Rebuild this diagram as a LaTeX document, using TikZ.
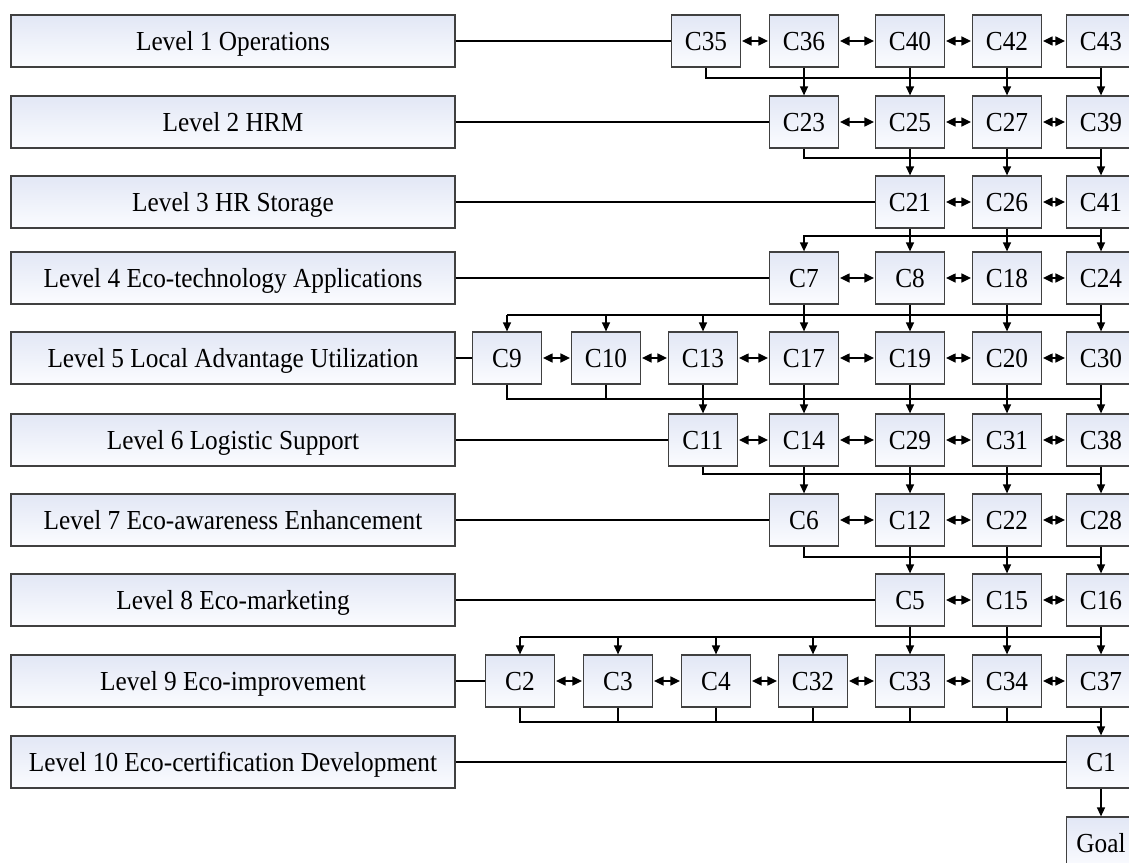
\documentclass[tikz,border=0pt]{standalone}
\usepackage{fontspec}
\setmainfont{Liberation Serif}[FakeStretch=0.92]
\usetikzlibrary{arrows.meta}
\definecolor{boxtop}{RGB}{226,231,245}
\definecolor{boxbot}{RGB}{251,252,255}
\definecolor{boxline}{RGB}{64,64,64}
\begin{document}
\begin{tikzpicture}[x=1pt,y=-1pt,
  base/.style={draw=boxline,line width=1.2pt,top color=boxtop,bottom color=boxbot,
    inner sep=0pt,font=\fontsize{27.5}{32}\selectfont,minimum height=52pt,
    text height=18pt,text depth=0pt},
  cbox/.style={base,minimum width=69pt},
  lbox/.style={base,minimum width=444pt},
  wire/.style={draw=black,line width=1.3pt},
  bus/.style={draw=black,line width=1.6pt},
  thickbus/.style={draw=black,line width=2.2pt},
  arr/.style={wire,-{Triangle[length=9pt,width=8pt]}},
  dbl/.style={wire,{Triangle[length=9.5pt,width=9pt]}-{Triangle[length=9.5pt,width=9pt]},shorten <=1pt,shorten >=1pt}
]
\useasboundingbox (0,0) rectangle (1129,862);
\fill[white] (0,0) rectangle (1129,862);

% Level boxes
\node[lbox] (L1) at (233,41) {Level 1 Operations};
\node[lbox] (L2) at (233,122) {Level 2 HRM};
\node[lbox] (L3) at (233,202) {Level 3 HR Storage};
\node[lbox] (L4) at (233,278) {Level 4 Eco-technology Applications};
\node[lbox] (L5) at (233,358) {Level 5 Local Advantage Utilization};
\node[lbox] (L6) at (233,440) {Level 6 Logistic Support};
\node[lbox] (L7) at (233,520) {Level 7 Eco-awareness Enhancement};
\node[lbox] (L8) at (233,600) {Level 8 Eco-marketing};
\node[lbox] (L9) at (233,681) {Level 9 Eco-improvement};
\node[lbox] (L10) at (233,762) {Level 10 Eco-certification Development};

% Row 1
\node[cbox] (C35) at (706,41) {C35};
\node[cbox] (C36) at (804,41) {C36};
\node[cbox] (C40) at (910,41) {C40};
\node[cbox] (C42) at (1007,41) {C42};
\node[cbox] (C43) at (1101,41) {C43};
% Row 2
\node[cbox] (C23) at (804,122) {C23};
\node[cbox] (C25) at (910,122) {C25};
\node[cbox] (C27) at (1007,122) {C27};
\node[cbox] (C39) at (1101,122) {C39};
% Row 3
\node[cbox] (C21) at (910,202) {C21};
\node[cbox] (C26) at (1007,202) {C26};
\node[cbox] (C41) at (1101,202) {C41};
% Row 4
\node[cbox] (C7) at (804,278) {C7};
\node[cbox] (C8) at (910,278) {C8};
\node[cbox] (C18) at (1007,278) {C18};
\node[cbox] (C24) at (1101,278) {C24};
% Row 5
\node[cbox] (C9) at (507,358) {C9};
\node[cbox] (C10) at (606,358) {C10};
\node[cbox] (C13) at (703,358) {C13};
\node[cbox] (C17) at (804,358) {C17};
\node[cbox] (C19) at (910,358) {C19};
\node[cbox] (C20) at (1007,358) {C20};
\node[cbox] (C30) at (1101,358) {C30};
% Row 6
\node[cbox] (C11) at (703,440) {C11};
\node[cbox] (C14) at (804,440) {C14};
\node[cbox] (C29) at (910,440) {C29};
\node[cbox] (C31) at (1007,440) {C31};
\node[cbox] (C38) at (1101,440) {C38};
% Row 7
\node[cbox] (C6) at (804,520) {C6};
\node[cbox] (C12) at (910,520) {C12};
\node[cbox] (C22) at (1007,520) {C22};
\node[cbox] (C28) at (1101,520) {C28};
% Row 8
\node[cbox] (C5) at (910,600) {C5};
\node[cbox] (C15) at (1007,600) {C15};
\node[cbox] (C16) at (1101,600) {C16};
% Row 9
\node[cbox] (C2) at (520,681) {C2};
\node[cbox] (C3) at (618,681) {C3};
\node[cbox] (C4) at (716,681) {C4};
\node[cbox] (C32) at (813,681) {C32};
\node[cbox] (C33) at (910,681) {C33};
\node[cbox] (C34) at (1007,681) {C34};
\node[cbox] (C37) at (1101,681) {C37};
% Row 10 and goal
\node[cbox] (C1) at (1101,762) {C1};
\node[cbox] (Goal) at (1101,843) {Goal};

% Bus coordinates
\coordinate (b12) at (1101,78);
\coordinate (b23) at (1101,158);
\coordinate (b34) at (1101,236);
\coordinate (b45) at (1101,315);
\coordinate (b56) at (1101,399);
\coordinate (b67) at (1101,474);
\coordinate (b78) at (1101,557);
\coordinate (b89) at (1101,637);
\coordinate (b910) at (1101,722);

% Level lines
\foreach \l/\c in {L1/C35,L2/C23,L3/C21,L4/C7,L5/C9,L6/C11,L7/C6,L8/C5,L9/C2,L10/C1}
  \draw[wire] (\l.east) -- (\c.west);

% Horizontal double arrows
\foreach \a/\b in {C35/C36,C36/C40,C40/C42,C42/C43,
  C23/C25,C25/C27,C27/C39,
  C21/C26,C26/C41,
  C7/C8,C8/C18,C18/C24,
  C9/C10,C10/C13,C13/C17,C17/C19,C19/C20,C20/C30,
  C11/C14,C14/C29,C29/C31,C31/C38,
  C6/C12,C12/C22,C22/C28,
  C5/C15,C15/C16,
  C2/C3,C3/C4,C4/C32,C32/C33,C33/C34,C34/C37}
  \draw[dbl] (\a.east) -- (\b.west);

% Row 1 -> 2
\draw[bus] (C35.south) |- (b12);
\foreach \a/\b in {C36/C23,C40/C25,C42/C27,C43/C39}
  \draw[arr] (\a.south) -- (\b.north);
% Row 2 -> 3
\draw[bus] (C23.south) |- (b23);
\foreach \a/\b in {C25/C21,C27/C26,C39/C41}
  \draw[arr] (\a.south) -- (\b.north);
% Row 3 -> 4
\draw[bus,-{Triangle[length=9pt,width=8pt]}] (b34) -| (C7.north);
\foreach \a/\b in {C21/C8,C26/C18,C41/C24}
  \draw[arr] (\a.south) -- (\b.north);
% Row 4 -> 5
\draw[thickbus] (b45) -- (C9.north |- b45);
\foreach \c in {C9,C10,C13}
  \draw[arr] (\c.north |- b45) -- (\c.north);
\foreach \a/\b in {C7/C17,C8/C19,C18/C20,C24/C30}
  \draw[arr] (\a.south) -- (\b.north);
% Row 5 -> 6
\draw[bus] (C9.south) |- (b56);
\draw[wire] (C10.south) -- (C10.south |- b56);
\foreach \a/\b in {C13/C11,C17/C14,C19/C29,C20/C31,C30/C38}
  \draw[arr] (\a.south) -- (\b.north);
% Row 6 -> 7
\draw[bus] (C11.south) |- (b67);
\foreach \a/\b in {C14/C6,C29/C12,C31/C22,C38/C28}
  \draw[arr] (\a.south) -- (\b.north);
% Row 7 -> 8
\draw[bus] (C6.south) |- (b78);
\foreach \a/\b in {C12/C5,C22/C15,C28/C16}
  \draw[arr] (\a.south) -- (\b.north);
% Row 8 -> 9
\draw[thickbus] (b89) -- (C2.north |- b89);
\foreach \c in {C2,C3,C4,C32}
  \draw[arr] (\c.north |- b89) -- (\c.north);
\foreach \a/\b in {C5/C33,C15/C34,C16/C37}
  \draw[arr] (\a.south) -- (\b.north);
% Row 9 -> 10
\draw[thickbus] (C2.south) |- (b910);
\foreach \c in {C3,C4,C32,C33,C34}
  \draw[wire] (\c.south) -- (\c.south |- b910);
\draw[arr] (C37.south) -- (C1.north);
% Row 10 -> Goal
\draw[arr] (C1.south) -- (Goal.north);
\end{tikzpicture}
\end{document}
